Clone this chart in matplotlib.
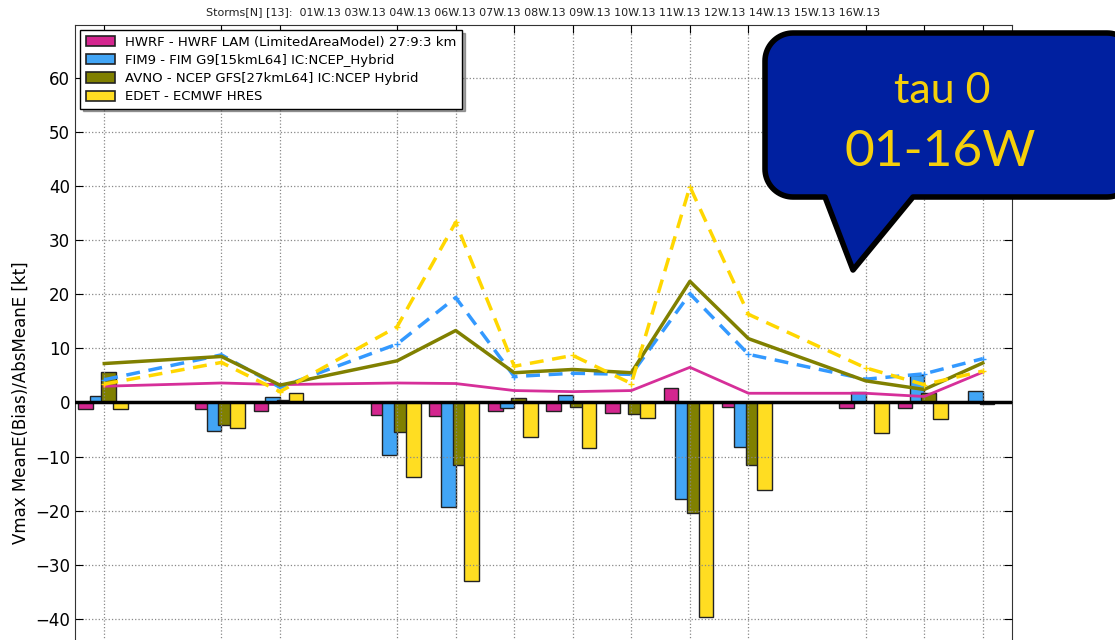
import numpy as np
import matplotlib
matplotlib.use("Agg")
import matplotlib.pyplot as plt
from matplotlib.patches import Polygon, Patch

# storm numbers and labels
storms = [1, 3, 4, 6, 7, 8, 9, 10, 11, 12, 14, 15, 16]
storm_labels = ['01W.13', '03W.13', '04W.13', '06W.13', '07W.13', '08W.13', '09W.13',
                '10W.13', '11W.13', '12W.13', '14W.13', '15W.13', '16W.13']

model_names = ['HWRF - HWRF LAM (LimitedAreaModel) 27:9:3 km',
               'FIM9 - FIM G9[15kmL64] IC:NCEP_Hybrid',
               'AVNO - NCEP GFS[27kmL64] IC:NCEP Hybrid',
               'EDET - ECMWF HRES']

# mean error (bias) -> bars
hwrf_bias = [-1.3, -1.3, -1.6, -2.4, -2.5, -1.6, -1.6, -2.0, 2.6, -0.8, -1.0, -1.1, 0.0]
fim_bias = [1.2, -5.3, 1.1, -9.8, -19.3, -1.0, 1.3, 0.0, -17.8, -8.3, 2.0, 5.0, 2.2]
avno_bias = [5.6, -4.1, 0.5, -5.4, -11.6, 0.8, -0.8, -2.2, -20.5, -11.5, 0.0, 1.8, -0.3]
edet_bias = [-1.2, -4.7, 1.8, -13.7, -33.1, -6.3, -8.5, -2.8, -39.7, -16.1, -5.7, -3.0, 0.0]

# absolute mean error -> lines
hwrf_abs = [3.0, 3.6, 3.3, 3.6, 3.5, 2.2, 2.0, 2.2, 6.5, 1.7, 1.7, 1.1, 5.6]
fim_abs = [4.2, 8.8, 2.8, 10.8, 19.4, 4.8, 5.4, 5.2, 20.1, 8.9, 4.3, 5.3, 8.1]
avno_abs = [7.2, 8.5, 3.2, 7.7, 13.3, 5.5, 6.1, 5.5, 22.4, 11.8, 4.0, 2.4, 7.3]
edet_abs = [3.4, 7.4, 2.0, 14.0, 33.3, 6.7, 8.7, 3.5, 39.9, 16.3, 6.4, 3.3, 5.8]

bar_colors = ['#d4268f', '#42a5f5', '#808000', '#ffdd22']
line_colors = ['#d62f99', '#3399ff', '#808000', '#ffd700']

W, H = 1115, 640
fig = plt.figure(figsize=(W / 100, H / 100), dpi=100)
# axes continues below the visible figure (reference is cropped)
ax = fig.add_axes([75 / W, (640 - 781) / H, 937 / W, 756 / H])

x = np.array(storms, dtype=float)
biases = [hwrf_bias, fim_bias, avno_bias, edet_bias]
for i, (vals, col) in enumerate(zip(biases, bar_colors)):
    ax.bar(x - 0.45 + 0.2 * i, vals, width=0.25, align='edge', color=col,
           edgecolor='#222222', linewidth=1.0, zorder=2)

abss = [hwrf_abs, fim_abs, avno_abs, edet_abs]
styles = ['-', '--', '-', '--']
widths = [2.0, 2.5, 2.5, 2.5]
for vals, col, ls, lw in zip(abss, line_colors, styles, widths):
    ax.plot(x, vals, linestyle=ls, color=col, linewidth=lw, zorder=3,
            marker='+' if ls == '--' else None, markersize=5,
            dashes=(4, 2.5) if ls == '--' else (None, None))

ax.axhline(0, color='black', linewidth=2.5, zorder=4)

ax.set_xlim(0.5, 16.5)
ax.set_ylim(-70, 69.8)
ax.set_xticks(storms)
# storm labels sit below the cropped area in the reference
ax.set_xticklabels([])
ax.set_yticks(np.arange(-40, 70, 10))
ax.tick_params(direction='in', length=6, labelsize=12, right=True, top=True)
ax.grid(True, linestyle=':', color='#888888', linewidth=0.9, zorder=5)
ax.set_axisbelow(False)
for sp in ax.spines.values():
    sp.set_color('#333333')
ax.set_ylabel('Vmax MeanE(Bias)/AbsMeanE [kt]', fontsize=12, labelpad=4)
ax.set_title('Storms[N] [13]:  ' + ' '.join(storm_labels), fontsize=8, color='#222222', pad=7)

handles = [Patch(facecolor=c, edgecolor='#222222', linewidth=1.2) for c in bar_colors]
leg = ax.legend(handles, model_names, loc='upper left', fontsize=9.5, shadow=True,
                fancybox=False, framealpha=1, edgecolor='black', borderaxespad=0.4,
                handlelength=2.2, handleheight=0.8, labelspacing=0.4)
leg.set_zorder(10)

# speech-bubble callout (pixel coords, y measured from top)
def arc(cx, cy, r, a0, a1):
    t = np.radians(np.linspace(a0, a1, 20))
    return np.column_stack([cx + r * np.cos(t), cy + r * np.sin(t)])

L, R, T, B, r = 765, 1135, 33, 197, 28
pts = np.vstack([
    arc(L + r, T + r, r, 180, 270),
    arc(R - r, T + r, r, 270, 360),
    arc(R - r, B - r, r, 0, 90),
    [[913, B], [853, 270], [825, B]],
    arc(L + r, B - r, r, 90, 180),
])
pts_in = np.column_stack([pts[:, 0] / 100, (H - pts[:, 1]) / 100])
bubble = Polygon(pts_in, closed=True, facecolor='#0020a0', edgecolor='black', linewidth=4,
                 joinstyle='round', transform=fig.dpi_scale_trans, zorder=20)
fig.add_artist(bubble)
fig.text(942 / W, 1 - 91 / H, 'tau 0', color='#f5cf0a', fontsize=31, family='Lato',
         ha='center', va='center', zorder=21)
fig.text(940 / W, 1 - 152 / H, '01-16W', color='#f5cf0a', fontsize=37, family='Lato',
         ha='center', va='center', zorder=21)

fig.savefig('out.png', dpi=100)
